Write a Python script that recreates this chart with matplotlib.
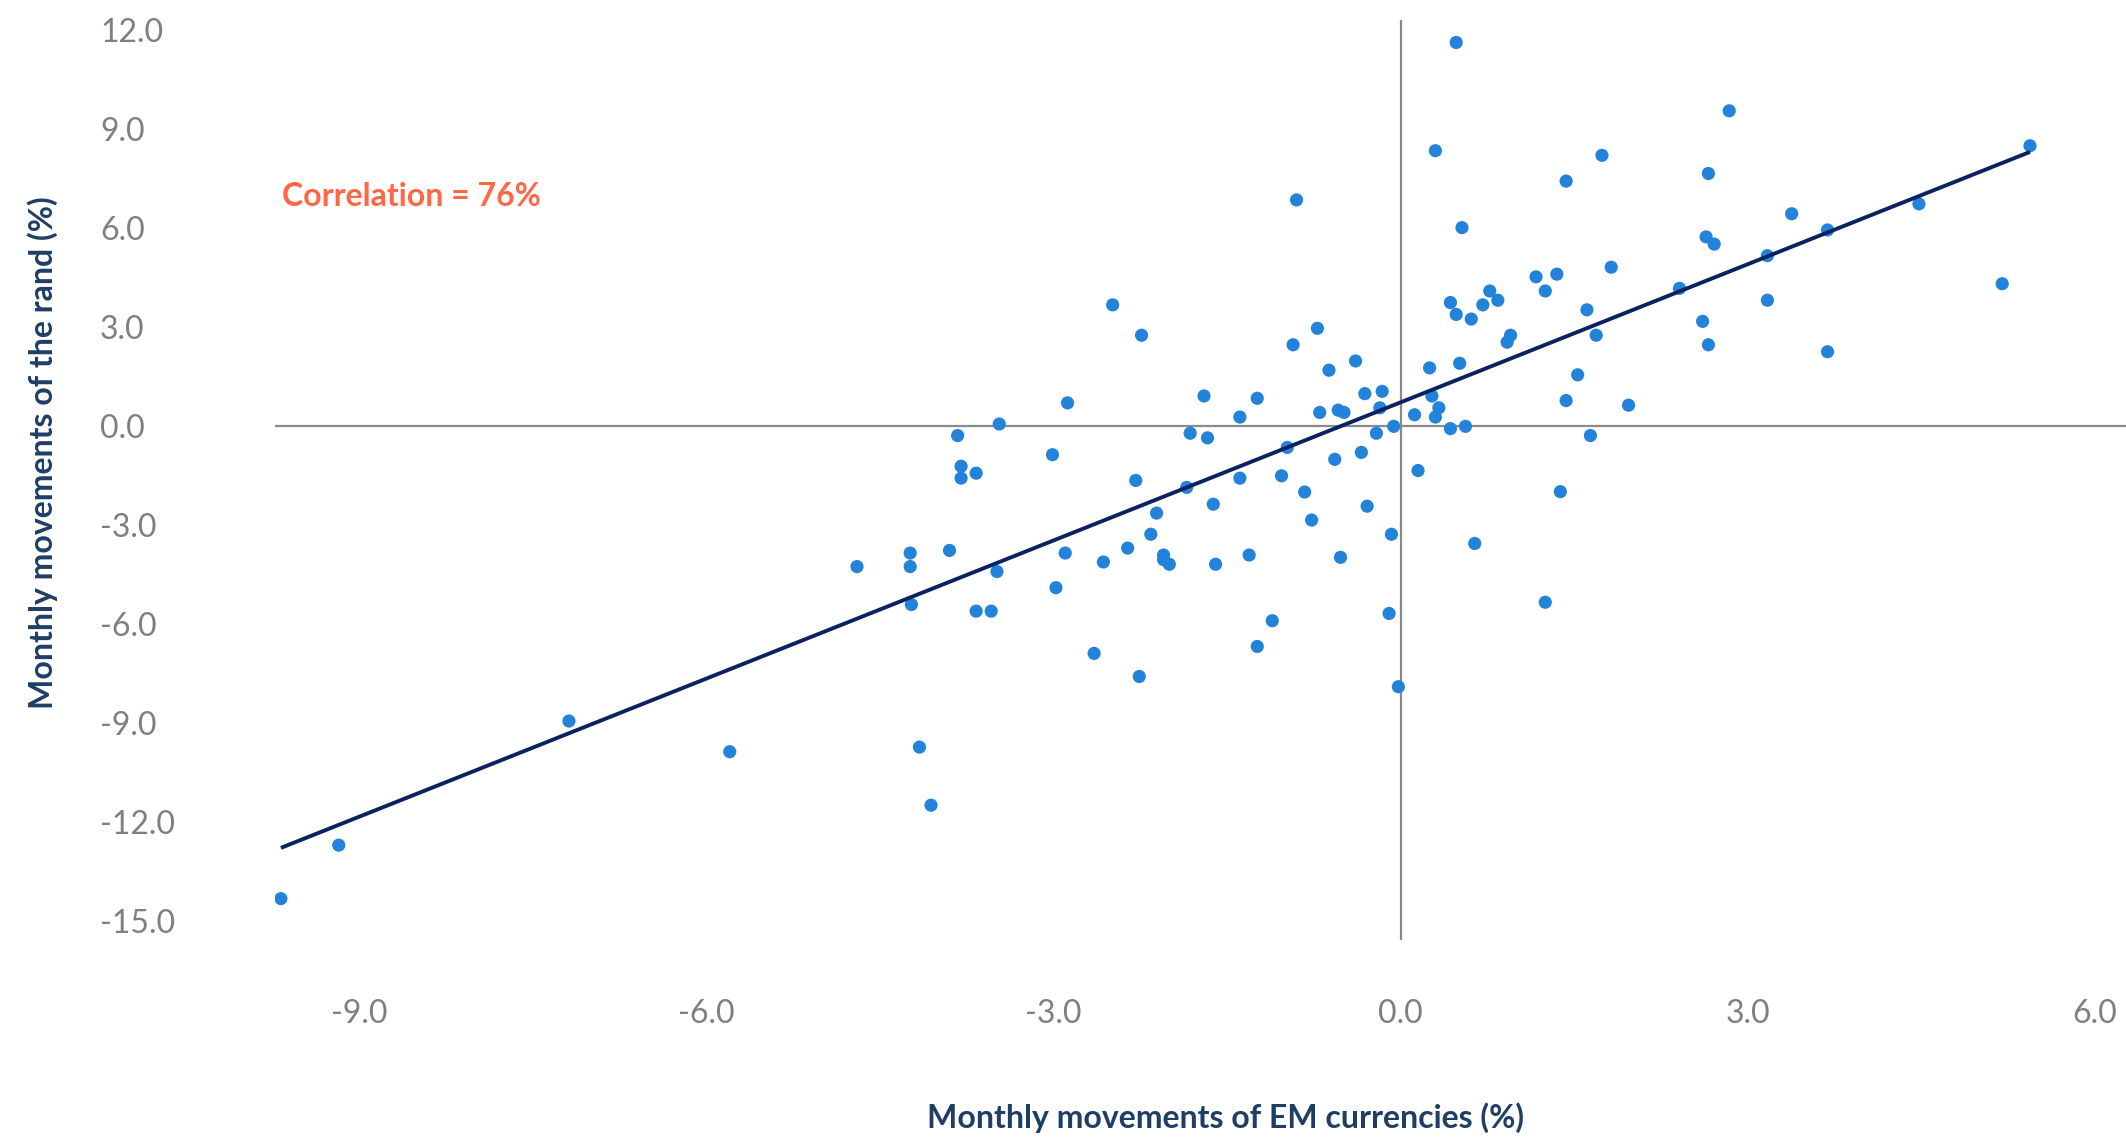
import numpy as np
import matplotlib
matplotlib.use("Agg")
import matplotlib.pyplot as plt

# ---- data ----
em_moves = [-9.68, -9.18, -7.19, -5.80, -4.16, -4.06, -4.70, -4.24, -4.24, -4.23,
            -3.83, -3.80, -3.80, -3.67, -3.47, -3.90, -3.67, -3.54, -3.49, -3.01,
            -2.88, -2.98, -2.90, -2.65, -2.57, -2.49, -2.36, -2.29, -2.26, -2.24,
            -2.16, -2.11, -2.05, -2.05, -2.00, -1.85, -1.82, -1.70, -1.67, -1.62,
            -1.60, -1.39, -1.39, -1.31, -1.24, -1.24, -1.11, -1.03, -0.98, -0.93,
            -0.90, -0.83, -0.77, -0.72, -0.70, -0.62, -0.57, -0.54, -0.49, -0.52,
            -0.39, -0.34, -0.31, -0.29, -0.21, -0.18, -0.16, -0.10, -0.08, -0.06,
            -0.02, 0.12, 0.15, 0.25, 0.27, 0.30, 0.30, 0.33, 0.43, 0.43,
            0.48, 0.48, 0.51, 0.53, 0.56, 0.61, 0.64, 0.71, 0.77, 0.84,
            0.92, 0.95, 1.17, 1.25, 1.25, 1.35, 1.38, 1.43, 1.43, 1.53,
            1.61, 1.64, 1.69, 1.74, 1.82, 1.97, 2.41, 2.61, 2.64, 2.66,
            2.66, 2.71, 2.84, 3.17, 3.17, 3.38, 3.69, 3.69, 4.48, 5.20, 5.44]
rand_moves = [-14.32, -12.70, -8.94, -9.87, -9.73, -11.49, -4.26, -3.85, -4.26, -5.41,
              -0.29, -1.22, -1.58, -1.43, 0.06, -3.77, -5.61, -5.61, -4.41, -0.87,
              0.70, -4.90, -3.85, -6.89, -4.12, 3.67, -3.70, -1.65, -7.59, 2.75,
              -3.28, -2.64, -3.91, -4.05, -4.19, -1.86, -0.22, 0.91, -0.36, -2.37,
              -4.19, -1.58, 0.27, -3.91, 0.84, -6.68, -5.90, -1.51, -0.65, 2.46,
              6.85, -2.00, -2.85, 2.96, 0.41, 1.69, -1.01, 0.48, 0.41, -3.98,
              1.97, -0.80, 0.98, -2.43, -0.22, 0.55, 1.05, -5.68, -3.28, -0.01,
              -7.90, 0.34, -1.35, 1.76, 0.91, 8.34, 0.27, 0.55, 3.74, -0.08,
              11.62, 3.38, 1.90, 6.01, -0.01, 3.24, -3.56, 3.67, 4.09, 3.81,
              2.54, 2.75, 4.52, 4.09, -5.34, 4.60, -1.99, 7.42, 0.77, 1.55,
              3.52, -0.29, 2.75, 8.20, 4.81, 0.63, 4.17, 3.17, 5.73, 7.65,
              2.46, 5.51, 9.55, 3.81, 5.16, 6.43, 5.94, 2.25, 6.73, 4.31, 8.49]
x_ticks = [-9.0, -6.0, -3.0, 0.0, 3.0, 6.0]
y_ticks = [12.0, 9.0, 6.0, 3.0, 0.0, -3.0, -6.0, -9.0, -12.0, -15.0]
annotation = "Correlation = 76%"
x_label = "Monthly movements of EM currencies (%)"
y_label = "Monthly movements of the rand (%)"

x = np.array(em_moves)
y = np.array(rand_moves)

plt.rcParams['font.family'] = ['Lato', 'DejaVu Sans']

fig = plt.figure(figsize=(21.26, 11.38), dpi=100)
ax = fig.add_axes([0.1294, 0.1744, 0.8706, 0.808])
ax.set_xlim(-9.73, 6.27)
ax.set_ylim(-15.56, 12.3)

for s in ax.spines.values():
    s.set_visible(False)

ax.axhline(0, color='#8a8a8a', lw=1.6, zorder=1)
ax.axvline(0, color='#8a8a8a', lw=1.6, zorder=1)

ax.scatter(x, y, s=90, color='#2383DA', edgecolors='none', zorder=3)

# linear trendline
slope, intercept = np.polyfit(x, y, 1)
xs = np.array([x.min(), x.max()])
ax.plot(xs, slope * xs + intercept, color='#0B2161', lw=2.8, zorder=4,
        solid_capstyle='butt')

ax.set_xticks(x_ticks)
ax.set_xticklabels([f"{v:.1f}" for v in x_ticks])
ax.set_yticks(y_ticks)
ax.set_yticklabels([f"{v:.1f}" for v in y_ticks])
ax.tick_params(axis='both', length=0, labelsize=23, labelcolor='#7f7f7f')
ax.tick_params(axis='y', pad=126)
ax.tick_params(axis='x', pad=43)
for lab in ax.get_yticklabels():
    lab.set_horizontalalignment('left')

ax.text(-9.67, 6.94, annotation, color='#FF6745', fontsize=23,
        fontweight='bold', ha='left', va='center')

fig.text(0.5765, 0.018, x_label, color='#1F3E66', fontsize=23,
         fontweight='bold', ha='center', va='center')
fig.text(0.020, 1 - 334 / 839, y_label, color='#1F3E66', fontsize=23,
         fontweight='bold', ha='center', va='center', rotation=90)

fig.savefig('out.png', dpi=100)
